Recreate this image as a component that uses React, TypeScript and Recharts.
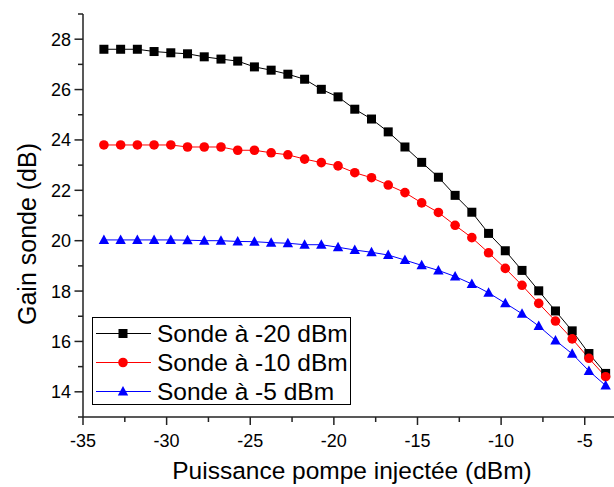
import { LineChart, Line, XAxis, YAxis, Legend } from 'recharts'

const FONT = '"Liberation Sans", Arial, Helvetica, sans-serif'

// puissance pompe injectée (dBm)
const pump = [
  -33.75, -32.75, -31.75, -30.75, -29.75, -28.75, -27.75, -26.75, -25.75, -24.75, -23.75,
  -22.75, -21.75, -20.75, -19.75, -18.75, -17.75, -16.75, -15.75, -14.75, -13.75, -12.75,
  -11.75, -10.75, -9.75, -8.75, -7.75, -6.75, -5.75, -4.75, -3.75,
]

// gain sonde (dB) pour chaque puissance de sonde
const gainM20 = [
  27.6, 27.6, 27.6, 27.51, 27.46, 27.42, 27.3, 27.21, 27.13, 26.9, 26.77,
  26.61, 26.41, 26.01, 25.71, 25.22, 24.83, 24.32, 23.72, 23.11, 22.52, 21.8,
  21.13, 20.29, 19.6, 18.82, 18.01, 17.21, 16.42, 15.52, 14.73,
]
const gainM10 = [
  23.8, 23.8, 23.8, 23.8, 23.8, 23.72, 23.72, 23.72, 23.59, 23.59, 23.49,
  23.41, 23.24, 23.1, 22.97, 22.7, 22.5, 22.21, 21.91, 21.5, 21.12, 20.61,
  20.12, 19.52, 18.9, 18.23, 17.51, 16.81, 16.1, 15.33, 14.6,
]
const gainM5 = [
  20.03, 20.03, 20.03, 20.03, 20.03, 20.02, 20.0, 20.0, 19.97, 19.96, 19.92,
  19.9, 19.84, 19.84, 19.74, 19.63, 19.54, 19.43, 19.23, 19.02, 18.82, 18.58,
  18.28, 17.93, 17.52, 17.1, 16.61, 16.04, 15.51, 14.83, 14.25,
]

const xTicks = [-35, -32.5, -30, -27.5, -25, -22.5, -20, -17.5, -15, -12.5, -10, -7.5, -5]
const yTicks = [13, 14, 15, 16, 17, 18, 19, 20, 21, 22, 23, 24, 25, 26, 27, 28, 29]

const data = pump.map((x, i) => ({ x, s20: gainM20[i], s10: gainM10[i], s5: gainM5[i] }))

const SERIES = [
  { key: 's20', name: 'Sonde à -20 dBm', color: '#000000', shape: 'square' },
  { key: 's10', name: 'Sonde à -10 dBm', color: '#ff0000', shape: 'circle' },
  { key: 's5', name: 'Sonde à -5 dBm', color: '#0000ff', shape: 'triangle' },
]

function Marker({ cx, cy, shape, color }: any) {
  if (shape === 'square') return <rect x={cx - 4.5} y={cy - 4.5} width={9} height={9} fill={color} />
  if (shape === 'circle') return <circle cx={cx} cy={cy} r={4.8} fill={color} />
  return <polygon points={`${cx},${cy - 5.5} ${cx - 5.2},${cy + 4} ${cx + 5.2},${cy + 4}`} fill={color} />
}

function XTick({ x, y, payload }: any) {
  const major = payload.value % 5 === 0
  return (
    <g>
      <line x1={x} x2={x} y1={y} y2={y + (major ? 8 : 5)} stroke="#222" strokeWidth={1.5} />
      {major && (
        <text x={x} y={y + 30} textAnchor="middle" fontSize={18} fontFamily={FONT} fill="#000">
          {payload.value}
        </text>
      )}
    </g>
  )
}

function YTick({ x, y, payload }: any) {
  const major = payload.value % 2 === 0
  return (
    <g>
      <line x1={x} x2={x - (major ? 8.5 : 5)} y1={y} y2={y} stroke="#222" strokeWidth={1.5} />
      {major && (
        <text x={x - 12} y={y + 6.5} textAnchor="end" fontSize={18} fontFamily={FONT} fill="#000">
          {payload.value}
        </text>
      )}
    </g>
  )
}

function LegendBox() {
  return (
    <div style={{ border: '1.5px solid #000', background: '#fff', boxSizing: 'border-box', width: 259, height: 88, paddingTop: 1 }}>
      {SERIES.map((s) => (
        <div key={s.key} style={{ display: 'flex', alignItems: 'center', height: 29 }}>
          <svg width={62} height={29} style={{ display: 'block' }}>
            <line x1={3} x2={58} y1={14.5} y2={14.5} stroke={s.color} strokeWidth={1} />
            <Marker cx={30} cy={14.5} shape={s.shape} color={s.color} />
          </svg>
          <span style={{ fontFamily: FONT, fontSize: 24.5, marginLeft: 2, color: '#000', whiteSpace: 'nowrap' }}>{s.name}</span>
        </div>
      ))}
    </div>
  )
}

export default function App() {
  return (
    <div style={{ position: 'absolute', left: 0, top: 0, background: '#fff' }}>
      <LineChart width={614} height={487} data={data} margin={{ top: 14, right: 0, bottom: 0, left: 0 }}>
        <XAxis
          dataKey="x"
          type="number"
          domain={[-35, -3.25]}
          ticks={xTicks}
          interval={0}
          allowDataOverflow
          height={70}
          tickSize={0}
          tickMargin={0}
          tickLine={false}
          axisLine={{ stroke: '#222', strokeWidth: 1.5 }}
          tick={<XTick />}
          label={{
            content: () => (
              <text x={352} y={479} textAnchor="middle" fontSize={24.5} fontFamily={FONT} fill="#000">
                Puissance pompe injectée (dBm)
              </text>
            ),
          }}
        />
        <XAxis
          xAxisId="top"
          dataKey="x"
          type="number"
          orientation="top"
          domain={[-35, -3.25]}
          height={0}
          tick={false}
          tickLine={false}
          axisLine={{ stroke: '#222', strokeWidth: 1.5 }}
        />
        <YAxis
          type="number"
          domain={[13, 29]}
          ticks={yTicks}
          interval={0}
          width={83}
          tickSize={0}
          tickMargin={0}
          tickLine={false}
          axisLine={{ stroke: '#222', strokeWidth: 1.5 }}
          tick={<YTick />}
          label={{
            content: () => (
              <text x={36} y={234} transform="rotate(-90, 36, 234)" textAnchor="middle" fontSize={25} fontFamily={FONT} fill="#000">
                Gain sonde (dB)
              </text>
            ),
          }}
        />
        <Legend
          layout="vertical"
          align="center"
          verticalAlign="middle"
          content={() => <LegendBox />}
          wrapperStyle={{ position: 'absolute', left: 92, top: 317, width: 259, height: 88 }}
        />
        {SERIES.map((s) => (
          <Line
            key={s.key}
            dataKey={s.key}
            name={s.name}
            type="linear"
            stroke={s.color}
            strokeWidth={1}
            isAnimationActive={false}
            dot={(p: any) => <Marker key={p.index} cx={p.cx} cy={p.cy} shape={s.shape} color={s.color} />}
            activeDot={false}
          />
        ))}
      </LineChart>
    </div>
  )
}
